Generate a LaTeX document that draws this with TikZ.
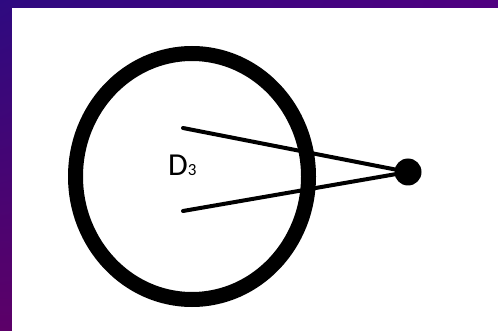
\documentclass[tikz,border=0pt]{standalone}
\usepackage{fontspec}
\setmainfont{Carlito}
\usetikzlibrary{shadings}
\definecolor{bgUL}{HTML}{2E0A80}
\definecolor{bgUR}{HTML}{500080}
\definecolor{bgLL}{HTML}{5C0068}
\definecolor{bgLR}{HTML}{5A0070}
\tikzset{
  ring/.style={draw=black, line width=15pt},
  spoke/.style={draw=black, line width=4pt, line cap=round},
  dotnode/.style={circle, fill=black, minimum size=27pt, inner sep=0pt},
}
\begin{document}
\begin{tikzpicture}[x=1pt,y=-1pt]
\useasboundingbox (0,0) rectangle (498,331);
\shade[upper left=bgUL, upper right=bgUR, lower left=bgLL, lower right=bgLR] (0,0) rectangle (498,331);
\fill[white] (12,8) rectangle (498,331);
\draw[ring] (192,176.5) ellipse [x radius=116.5, y radius=123];
\node[dotnode] (dot) at (408,172) {};
\coordinate (a) at (183,128);
\coordinate (b) at (183,211);
\draw[spoke] (a) -- (dot.center);
\draw[spoke] (b) -- (dot.center);
\node[anchor=base west, inner sep=0pt] (lbl) at (168,175.5) {\fontsize{32}{32}\selectfont D\fontsize{17}{17}\selectfont 3};
\end{tikzpicture}
\end{document}
